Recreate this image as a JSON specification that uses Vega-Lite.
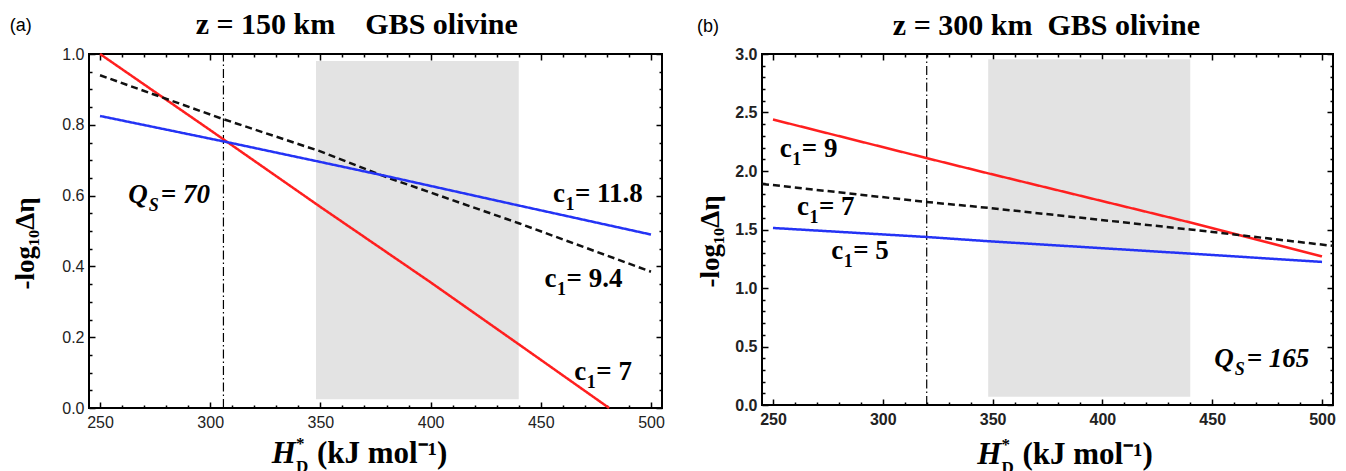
{
  "$schema": "https://vega.github.io/schema/vega-lite/v6.json",
  "padding": {"left": 8, "top": 8, "right": 0, "bottom": 0},
  "autosize": {"type": "pad"},
  "spacing": 29,
  "resolve": {"scale": {"color": "independent", "strokeDash": "independent"}},
  "config": {
    "view": {"stroke": "black", "strokeWidth": 2},
    "axis": {"grid": false, "domain": false, "tickColor": "black", "tickWidth": 1.5, "labelFlush": false, "labelOverlap": false},
    "text": {"color": "black"}
  },
  "datasets": {
    "ttl_a": [{"x": 366.5, "y": 1.0565, "t": "z = 150 km\u00a0\u00a0\u00a0\u00a0GBS olivine"}],
    "shade_a": [{"x": 348, "x2": 440, "y": 0.025, "y2": 0.98}],
    "vline_a": [{"x": 306, "y": 0, "y2": 1}],
    "lines_a": [
      {"s": "c1 = 7", "x": 250, "y": 1.0}, {"s": "c1 = 7", "x": 300, "y": 0.785}, {"s": "c1 = 7", "x": 350, "y": 0.568}, {"s": "c1 = 7", "x": 400, "y": 0.355}, {"s": "c1 = 7", "x": 440, "y": 0.18}, {"s": "c1 = 7", "x": 481, "y": 0.0},
      {"s": "c1 = 9.4", "x": 250, "y": 0.94}, {"s": "c1 = 9.4", "x": 305, "y": 0.818}, {"s": "c1 = 9.4", "x": 350, "y": 0.725}, {"s": "c1 = 9.4", "x": 380, "y": 0.652}, {"s": "c1 = 9.4", "x": 440, "y": 0.522}, {"s": "c1 = 9.4", "x": 500, "y": 0.385},
      {"s": "c1 = 11.8", "x": 250, "y": 0.825}, {"s": "c1 = 11.8", "x": 310, "y": 0.748}, {"s": "c1 = 11.8", "x": 350, "y": 0.695}, {"s": "c1 = 11.8", "x": 380, "y": 0.655}, {"s": "c1 = 11.8", "x": 440, "y": 0.572}, {"s": "c1 = 11.8", "x": 500, "y": 0.49}
    ],
    "lab_a": [
      {"x": 465.5, "y": 0.582, "pre": "c", "sub": "1", "rest": "= 11.8"},
      {"x": 461.7, "y": 0.342, "pre": "c", "sub": "1", "rest": "= 9.4"},
      {"x": 475.2, "y": 0.08, "pre": "c", "sub": "1", "rest": "= 7"}
    ],
    "q_a": [{"x": 277.6, "y": 0.578, "pre": "Q", "sub": "S", "rest": "= 70"}],
    "xt_a": [{"x": 338.9, "y": -0.155, "h": "H", "star": "*", "d": "D", "rest": "(kJ mol⁻¹)"}],
    "tag_a": [{"x": 214, "y": 1.079, "t": "(a)"}],
    "ttl_b": [{"x": 374.5, "y": 3.162, "t": "z = 300 km\u00a0\u00a0GBS olivine"}],
    "shade_b": [{"x": 348, "x2": 440, "y": 0.07, "y2": 2.955}],
    "vline_b": [{"x": 320, "y": 0, "y2": 3}],
    "lines_b": [
      {"s": "c1 = 9", "x": 250, "y": 2.44}, {"s": "c1 = 9", "x": 320, "y": 2.11}, {"s": "c1 = 9", "x": 348, "y": 1.98}, {"s": "c1 = 9", "x": 440, "y": 1.56}, {"s": "c1 = 9", "x": 500, "y": 1.27},
      {"s": "c1 = 7", "x": 245, "y": 1.89}, {"s": "c1 = 7", "x": 320, "y": 1.735}, {"s": "c1 = 7", "x": 348, "y": 1.685}, {"s": "c1 = 7", "x": 440, "y": 1.5}, {"s": "c1 = 7", "x": 505, "y": 1.36},
      {"s": "c1 = 5", "x": 250, "y": 1.513}, {"s": "c1 = 5", "x": 320, "y": 1.436}, {"s": "c1 = 5", "x": 348, "y": 1.4}, {"s": "c1 = 5", "x": 440, "y": 1.294}, {"s": "c1 = 5", "x": 500, "y": 1.223}
    ],
    "lab_b": [
      {"x": 263.1, "y": 2.119, "pre": "c", "sub": "1", "rest": "= 9"},
      {"x": 270.9, "y": 1.621, "pre": "c", "sub": "1", "rest": "= 7"},
      {"x": 286.5, "y": 1.252, "pre": "c", "sub": "1", "rest": "= 5"}
    ],
    "q_b": [{"x": 465.7, "y": 0.328, "pre": "Q", "sub": "S", "rest": "= 165"}],
    "xt_b": [{"x": 354, "y": -0.504, "h": "H", "star": "*", "d": "D", "rest": "(kJ mol⁻¹)"}],
    "tag_b": [{"x": 220.4, "y": 3.23, "t": "(b)"}]
  },
  "hconcat": [
    {
      "width": 573,
      "height": 354,
      "resolve": {"axis": {"x": "independent", "y": "independent"}},
      "encoding": {
        "x": {"field": "x", "type": "quantitative", "scale": {"domain": [245, 505], "nice": false, "zero": false}, "axis": null},
        "y": {"field": "y", "type": "quantitative", "scale": {"domain": [0, 1], "nice": false, "zero": false}, "axis": null}
      },
      "layer": [
        {
          "data": {"name": "shade_a"},
          "mark": {"type": "rect", "color": "#e3e3e3"},
          "encoding": {
            "x": {"field": "x", "type": "quantitative", "scale": {"domain": [245, 505], "nice": false, "zero": false},
              "axis": {"orient": "bottom", "values": [250, 300, 350, 400, 450, 500], "format": "d", "tickSize": -6, "labelPadding": 12, "labelFont": "Liberation Sans", "labelFontSize": 16, "labelColor": "#222", "title": null}},
            "x2": {"field": "x2"},
            "y": {"field": "y", "type": "quantitative", "scale": {"domain": [0, 1], "nice": false, "zero": false},
              "axis": {"orient": "left", "values": [0, 0.2, 0.4, 0.6, 0.8, 1], "format": ".1f", "tickSize": -6, "labelPadding": 11, "labelFont": "Liberation Sans", "labelFontSize": 16, "labelColor": "#222",
                "title": "-log₁₀Δη", "titleFont": "Liberation Serif", "titleFontSize": 27, "titleFontWeight": "bold", "titleColor": "black", "titlePadding": 22, "titleY": 189}},
            "y2": {"field": "y2"}
          }
        },
        {
          "data": {"name": "vline_a"},
          "mark": {"type": "rule", "color": "black", "strokeWidth": 1.2, "strokeDash": [9, 3, 1.5, 3]},
          "encoding": {
            "x": {"field": "x", "type": "quantitative", "scale": {"domain": [245, 505], "nice": false, "zero": false},
              "axis": {"orient": "bottom", "values": [260, 270, 280, 290, 310, 320, 330, 340, 360, 370, 380, 390, 410, 420, 430, 440, 460, 470, 480, 490], "tickSize": -3, "labels": false, "title": null}},
            "y": {"field": "y", "type": "quantitative", "scale": {"domain": [0, 1], "nice": false, "zero": false},
              "axis": {"orient": "left", "values": [0.05, 0.1, 0.15, 0.25, 0.3, 0.35, 0.45, 0.5, 0.55, 0.65, 0.7, 0.75, 0.85, 0.9, 0.95], "tickSize": -3, "labels": false, "title": null}},
            "y2": {"field": "y2"}
          }
        },
        {
          "data": {"name": "lines_a"},
          "mark": {"type": "line", "strokeWidth": 2.5},
          "encoding": {
            "x": {"field": "x", "type": "quantitative", "scale": {"domain": [245, 505], "nice": false, "zero": false},
              "axis": {"orient": "top", "values": [250, 300, 350, 400, 450, 500], "tickSize": -6, "labels": false, "title": null}},
            "y": {"field": "y", "type": "quantitative", "scale": {"domain": [0, 1], "nice": false, "zero": false},
              "axis": {"orient": "right", "values": [0, 0.2, 0.4, 0.6, 0.8, 1], "tickSize": -6, "labels": false, "title": null}},
            "color": {"field": "s", "type": "nominal", "scale": {"domain": ["c1 = 7", "c1 = 9.4", "c1 = 11.8"], "range": ["#ff1f1f", "#111111", "#2433f5"]}, "legend": null},
            "strokeDash": {"field": "s", "type": "nominal", "scale": {"domain": ["c1 = 7", "c1 = 9.4", "c1 = 11.8"], "range": [[1, 0], [7, 4], [1, 0]]}, "legend": null}
          }
        },
        {
          "data": {"name": "tag_a"},
          "mark": {"type": "text", "font": "Liberation Sans", "fontSize": 18, "align": "center", "baseline": "middle"},
          "encoding": {
            "x": {"field": "x", "type": "quantitative", "scale": {"domain": [245, 505], "nice": false, "zero": false},
              "axis": {"orient": "top", "values": [260, 270, 280, 290, 310, 320, 330, 340, 360, 370, 380, 390, 410, 420, 430, 440, 460, 470, 480, 490], "tickSize": -3, "labels": false, "title": null}},
            "y": {"field": "y", "type": "quantitative", "scale": {"domain": [0, 1], "nice": false, "zero": false},
              "axis": {"orient": "right", "values": [0.05, 0.1, 0.15, 0.25, 0.3, 0.35, 0.45, 0.5, 0.55, 0.65, 0.7, 0.75, 0.85, 0.9, 0.95], "tickSize": -3, "labels": false, "title": null}},
            "text": {"field": "t"}
          }
        },
        {"data": {"name": "ttl_a"}, "mark": {"type": "text", "font": "Liberation Serif", "fontWeight": "bold", "fontSize": 30, "align": "center", "baseline": "alphabetic"}, "encoding": {"text": {"field": "t"}}},
        {"data": {"name": "lab_a"}, "mark": {"type": "text", "font": "Liberation Serif", "fontWeight": "bold", "fontSize": 27, "align": "right", "baseline": "alphabetic", "dx": -10}, "encoding": {"text": {"field": "pre"}}},
        {"data": {"name": "lab_a"}, "mark": {"type": "text", "font": "Liberation Serif", "fontWeight": "bold", "fontSize": 18, "align": "center", "baseline": "alphabetic", "dx": -5, "dy": 8}, "encoding": {"text": {"field": "sub"}}},
        {"data": {"name": "lab_a"}, "mark": {"type": "text", "font": "Liberation Serif", "fontWeight": "bold", "fontSize": 27, "align": "left", "baseline": "alphabetic"}, "encoding": {"text": {"field": "rest"}}},
        {"data": {"name": "q_a"}, "mark": {"type": "text", "font": "Liberation Serif", "fontWeight": "bold", "fontStyle": "italic", "fontSize": 27, "align": "right", "baseline": "alphabetic", "dx": -13}, "encoding": {"text": {"field": "pre"}}},
        {"data": {"name": "q_a"}, "mark": {"type": "text", "font": "Liberation Serif", "fontWeight": "bold", "fontStyle": "italic", "fontSize": 18, "align": "center", "baseline": "alphabetic", "dx": -7, "dy": 8}, "encoding": {"text": {"field": "sub"}}},
        {"data": {"name": "q_a"}, "mark": {"type": "text", "font": "Liberation Serif", "fontWeight": "bold", "fontStyle": "italic", "fontSize": 27, "align": "left", "baseline": "alphabetic"}, "encoding": {"text": {"field": "rest"}}},
        {"data": {"name": "xt_a"}, "mark": {"type": "text", "font": "Liberation Serif", "fontWeight": "bold", "fontStyle": "italic", "fontSize": 31, "align": "right", "baseline": "alphabetic"}, "encoding": {"text": {"field": "h"}}},
        {"data": {"name": "xt_a"}, "mark": {"type": "text", "font": "Liberation Serif", "fontWeight": "bold", "fontSize": 17, "align": "left", "baseline": "alphabetic", "dx": 0, "dy": -14}, "encoding": {"text": {"field": "star"}}},
        {"data": {"name": "xt_a"}, "mark": {"type": "text", "font": "Liberation Serif", "fontWeight": "bold", "fontSize": 17, "align": "left", "baseline": "alphabetic", "dx": 0, "dy": 9}, "encoding": {"text": {"field": "d"}}},
        {"data": {"name": "xt_a"}, "mark": {"type": "text", "font": "Liberation Serif", "fontWeight": "bold", "fontSize": 31, "align": "left", "baseline": "alphabetic", "dx": 21}, "encoding": {"text": {"field": "rest"}}}
      ]
    },
    {
      "width": 571,
      "height": 351,
      "resolve": {"axis": {"x": "independent", "y": "independent"}},
      "encoding": {
        "x": {"field": "x", "type": "quantitative", "scale": {"domain": [245, 505], "nice": false, "zero": false}, "axis": null},
        "y": {"field": "y", "type": "quantitative", "scale": {"domain": [0, 3], "nice": false, "zero": false}, "axis": null}
      },
      "layer": [
        {
          "data": {"name": "shade_b"},
          "mark": {"type": "rect", "color": "#e3e3e3"},
          "encoding": {
            "x": {"field": "x", "type": "quantitative", "scale": {"domain": [245, 505], "nice": false, "zero": false},
              "axis": {"orient": "bottom", "values": [250, 300, 350, 400, 450, 500], "format": "d", "tickSize": -6, "labelPadding": 12, "labelFont": "Liberation Sans", "labelFontSize": 16, "labelFontWeight": "bold", "labelColor": "#222", "title": null}},
            "x2": {"field": "x2"},
            "y": {"field": "y", "type": "quantitative", "scale": {"domain": [0, 3], "nice": false, "zero": false},
              "axis": {"orient": "left", "values": [0, 0.5, 1, 1.5, 2, 2.5, 3], "format": ".1f", "tickSize": -6, "labelPadding": 11, "labelFont": "Liberation Sans", "labelFontSize": 16, "labelFontWeight": "bold", "labelColor": "#222",
                "title": "-log₁₀Δη", "titleFont": "Liberation Serif", "titleFontSize": 27, "titleFontWeight": "bold", "titleColor": "black", "titlePadding": 10, "titleY": 187}},
            "y2": {"field": "y2"}
          }
        },
        {
          "data": {"name": "vline_b"},
          "mark": {"type": "rule", "color": "black", "strokeWidth": 1.2, "strokeDash": [9, 3, 1.5, 3]},
          "encoding": {
            "x": {"field": "x", "type": "quantitative", "scale": {"domain": [245, 505], "nice": false, "zero": false},
              "axis": {"orient": "bottom", "values": [260, 270, 280, 290, 310, 320, 330, 340, 360, 370, 380, 390, 410, 420, 430, 440, 460, 470, 480, 490], "tickSize": -3, "labels": false, "title": null}},
            "y": {"field": "y", "type": "quantitative", "scale": {"domain": [0, 3], "nice": false, "zero": false},
              "axis": {"orient": "left", "values": [0.1, 0.2, 0.3, 0.4, 0.6, 0.7, 0.8, 0.9, 1.1, 1.2, 1.3, 1.4, 1.6, 1.7, 1.8, 1.9, 2.1, 2.2, 2.3, 2.4, 2.6, 2.7, 2.8, 2.9], "tickSize": -3, "labels": false, "title": null}},
            "y2": {"field": "y2"}
          }
        },
        {
          "data": {"name": "lines_b"},
          "mark": {"type": "line", "strokeWidth": 2.5},
          "encoding": {
            "x": {"field": "x", "type": "quantitative", "scale": {"domain": [245, 505], "nice": false, "zero": false},
              "axis": {"orient": "top", "values": [250, 300, 350, 400, 450, 500], "tickSize": -6, "labels": false, "title": null}},
            "y": {"field": "y", "type": "quantitative", "scale": {"domain": [0, 3], "nice": false, "zero": false},
              "axis": {"orient": "right", "values": [0, 0.5, 1, 1.5, 2, 2.5, 3], "tickSize": -6, "labels": false, "title": null}},
            "color": {"field": "s", "type": "nominal", "scale": {"domain": ["c1 = 9", "c1 = 7", "c1 = 5"], "range": ["#ff1f1f", "#111111", "#2433f5"]}, "legend": null},
            "strokeDash": {"field": "s", "type": "nominal", "scale": {"domain": ["c1 = 9", "c1 = 7", "c1 = 5"], "range": [[1, 0], [7, 4], [1, 0]]}, "legend": null}
          }
        },
        {
          "data": {"name": "tag_b"},
          "mark": {"type": "text", "font": "Liberation Sans", "fontSize": 18, "align": "center", "baseline": "middle"},
          "encoding": {
            "x": {"field": "x", "type": "quantitative", "scale": {"domain": [245, 505], "nice": false, "zero": false},
              "axis": {"orient": "top", "values": [260, 270, 280, 290, 310, 320, 330, 340, 360, 370, 380, 390, 410, 420, 430, 440, 460, 470, 480, 490], "tickSize": -3, "labels": false, "title": null}},
            "y": {"field": "y", "type": "quantitative", "scale": {"domain": [0, 3], "nice": false, "zero": false},
              "axis": {"orient": "right", "values": [0.1, 0.2, 0.3, 0.4, 0.6, 0.7, 0.8, 0.9, 1.1, 1.2, 1.3, 1.4, 1.6, 1.7, 1.8, 1.9, 2.1, 2.2, 2.3, 2.4, 2.6, 2.7, 2.8, 2.9], "tickSize": -3, "labels": false, "title": null}},
            "text": {"field": "t"}
          }
        },
        {"data": {"name": "ttl_b"}, "mark": {"type": "text", "font": "Liberation Serif", "fontWeight": "bold", "fontSize": 30, "align": "center", "baseline": "alphabetic"}, "encoding": {"text": {"field": "t"}}},
        {"data": {"name": "lab_b"}, "mark": {"type": "text", "font": "Liberation Serif", "fontWeight": "bold", "fontSize": 27, "align": "right", "baseline": "alphabetic", "dx": -10}, "encoding": {"text": {"field": "pre"}}},
        {"data": {"name": "lab_b"}, "mark": {"type": "text", "font": "Liberation Serif", "fontWeight": "bold", "fontSize": 18, "align": "center", "baseline": "alphabetic", "dx": -5, "dy": 8}, "encoding": {"text": {"field": "sub"}}},
        {"data": {"name": "lab_b"}, "mark": {"type": "text", "font": "Liberation Serif", "fontWeight": "bold", "fontSize": 27, "align": "left", "baseline": "alphabetic"}, "encoding": {"text": {"field": "rest"}}},
        {"data": {"name": "q_b"}, "mark": {"type": "text", "font": "Liberation Serif", "fontWeight": "bold", "fontStyle": "italic", "fontSize": 27, "align": "right", "baseline": "alphabetic", "dx": -13}, "encoding": {"text": {"field": "pre"}}},
        {"data": {"name": "q_b"}, "mark": {"type": "text", "font": "Liberation Serif", "fontWeight": "bold", "fontStyle": "italic", "fontSize": 18, "align": "center", "baseline": "alphabetic", "dx": -7, "dy": 8}, "encoding": {"text": {"field": "sub"}}},
        {"data": {"name": "q_b"}, "mark": {"type": "text", "font": "Liberation Serif", "fontWeight": "bold", "fontStyle": "italic", "fontSize": 27, "align": "left", "baseline": "alphabetic"}, "encoding": {"text": {"field": "rest"}}},
        {"data": {"name": "xt_b"}, "mark": {"type": "text", "font": "Liberation Serif", "fontWeight": "bold", "fontStyle": "italic", "fontSize": 31, "align": "right", "baseline": "alphabetic"}, "encoding": {"text": {"field": "h"}}},
        {"data": {"name": "xt_b"}, "mark": {"type": "text", "font": "Liberation Serif", "fontWeight": "bold", "fontSize": 17, "align": "left", "baseline": "alphabetic", "dx": 0, "dy": -14}, "encoding": {"text": {"field": "star"}}},
        {"data": {"name": "xt_b"}, "mark": {"type": "text", "font": "Liberation Serif", "fontWeight": "bold", "fontSize": 17, "align": "left", "baseline": "alphabetic", "dx": 0, "dy": 9}, "encoding": {"text": {"field": "d"}}},
        {"data": {"name": "xt_b"}, "mark": {"type": "text", "font": "Liberation Serif", "fontWeight": "bold", "fontSize": 31, "align": "left", "baseline": "alphabetic", "dx": 21}, "encoding": {"text": {"field": "rest"}}}
      ]
    }
  ]
}
